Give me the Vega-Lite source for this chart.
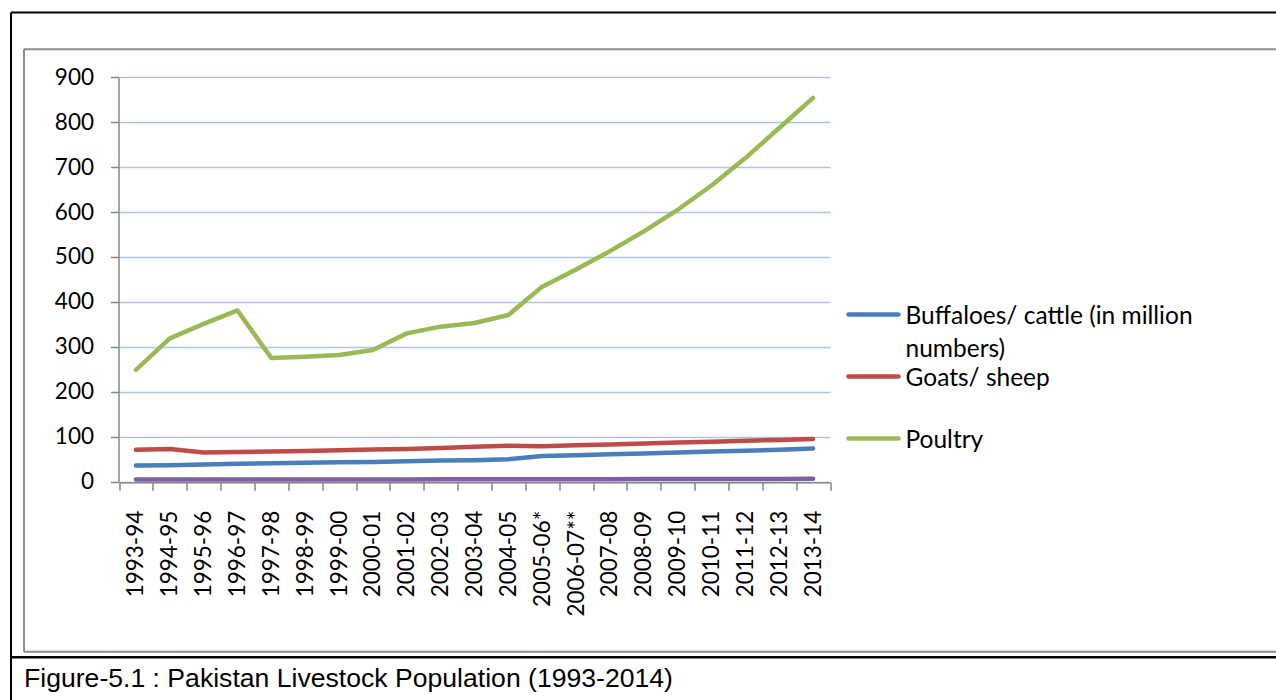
{
  "$schema": "https://vega.github.io/schema/vega-lite/v6.json",
  "autosize": {"type": "none"},
  "width": 1265.5,
  "height": 688,
  "padding": {"left": 10.5, "top": 12, "right": 0, "bottom": 0},
  "background": "white",
  "config": {
    "view": {"stroke": null},
    "font": "Lato",
    "axis": {"labelFont": "Lato", "labelColor": "#000000"}
  },
  "title": {
    "text": "Figure-5.1 : Pakistan Livestock Population (1993-2014)",
    "orient": "bottom",
    "anchor": "start",
    "frame": "group",
    "offset": -13.5,
    "dx": 13.5,
    "font": "Liberation Sans",
    "fontSize": 26.6,
    "fontWeight": "normal",
    "color": "#000000",
    "baseline": "alphabetic"
  },
  "data": {
    "values": [
      {"year": "1993-94", "series": "Buffaloes/ cattle (in million numbers)", "value": 36},
      {"year": "1994-95", "series": "Buffaloes/ cattle (in million numbers)", "value": 36.5},
      {"year": "1995-96", "series": "Buffaloes/ cattle (in million numbers)", "value": 38},
      {"year": "1996-97", "series": "Buffaloes/ cattle (in million numbers)", "value": 40},
      {"year": "1997-98", "series": "Buffaloes/ cattle (in million numbers)", "value": 41},
      {"year": "1998-99", "series": "Buffaloes/ cattle (in million numbers)", "value": 42},
      {"year": "1999-00", "series": "Buffaloes/ cattle (in million numbers)", "value": 43},
      {"year": "2000-01", "series": "Buffaloes/ cattle (in million numbers)", "value": 44},
      {"year": "2001-02", "series": "Buffaloes/ cattle (in million numbers)", "value": 45.5},
      {"year": "2002-03", "series": "Buffaloes/ cattle (in million numbers)", "value": 47},
      {"year": "2003-04", "series": "Buffaloes/ cattle (in million numbers)", "value": 48},
      {"year": "2004-05", "series": "Buffaloes/ cattle (in million numbers)", "value": 50},
      {"year": "2005-06*", "series": "Buffaloes/ cattle (in million numbers)", "value": 57},
      {"year": "2006-07**", "series": "Buffaloes/ cattle (in million numbers)", "value": 59},
      {"year": "2007-08", "series": "Buffaloes/ cattle (in million numbers)", "value": 61},
      {"year": "2008-09", "series": "Buffaloes/ cattle (in million numbers)", "value": 63},
      {"year": "2009-10", "series": "Buffaloes/ cattle (in million numbers)", "value": 65},
      {"year": "2010-11", "series": "Buffaloes/ cattle (in million numbers)", "value": 67},
      {"year": "2011-12", "series": "Buffaloes/ cattle (in million numbers)", "value": 69},
      {"year": "2012-13", "series": "Buffaloes/ cattle (in million numbers)", "value": 71},
      {"year": "2013-14", "series": "Buffaloes/ cattle (in million numbers)", "value": 74},
      {"year": "1993-94", "series": "Goats/ sheep", "value": 71},
      {"year": "1994-95", "series": "Goats/ sheep", "value": 73},
      {"year": "1995-96", "series": "Goats/ sheep", "value": 65},
      {"year": "1996-97", "series": "Goats/ sheep", "value": 66},
      {"year": "1997-98", "series": "Goats/ sheep", "value": 67},
      {"year": "1998-99", "series": "Goats/ sheep", "value": 68.5},
      {"year": "1999-00", "series": "Goats/ sheep", "value": 70},
      {"year": "2000-01", "series": "Goats/ sheep", "value": 71.5},
      {"year": "2001-02", "series": "Goats/ sheep", "value": 73},
      {"year": "2002-03", "series": "Goats/ sheep", "value": 75},
      {"year": "2003-04", "series": "Goats/ sheep", "value": 77.5},
      {"year": "2004-05", "series": "Goats/ sheep", "value": 80},
      {"year": "2005-06*", "series": "Goats/ sheep", "value": 79},
      {"year": "2006-07**", "series": "Goats/ sheep", "value": 81},
      {"year": "2007-08", "series": "Goats/ sheep", "value": 83},
      {"year": "2008-09", "series": "Goats/ sheep", "value": 85},
      {"year": "2009-10", "series": "Goats/ sheep", "value": 87},
      {"year": "2010-11", "series": "Goats/ sheep", "value": 89},
      {"year": "2011-12", "series": "Goats/ sheep", "value": 91},
      {"year": "2012-13", "series": "Goats/ sheep", "value": 93},
      {"year": "2013-14", "series": "Goats/ sheep", "value": 95},
      {"year": "1993-94", "series": "Poultry", "value": 249},
      {"year": "1994-95", "series": "Poultry", "value": 319},
      {"year": "1995-96", "series": "Poultry", "value": 351},
      {"year": "1996-97", "series": "Poultry", "value": 381},
      {"year": "1997-98", "series": "Poultry", "value": 275},
      {"year": "1998-99", "series": "Poultry", "value": 278},
      {"year": "1999-00", "series": "Poultry", "value": 282},
      {"year": "2000-01", "series": "Poultry", "value": 293},
      {"year": "2001-02", "series": "Poultry", "value": 330},
      {"year": "2002-03", "series": "Poultry", "value": 345},
      {"year": "2003-04", "series": "Poultry", "value": 353},
      {"year": "2004-05", "series": "Poultry", "value": 371},
      {"year": "2005-06*", "series": "Poultry", "value": 434},
      {"year": "2006-07**", "series": "Poultry", "value": 472},
      {"year": "2007-08", "series": "Poultry", "value": 513},
      {"year": "2008-09", "series": "Poultry", "value": 557},
      {"year": "2009-10", "series": "Poultry", "value": 605},
      {"year": "2010-11", "series": "Poultry", "value": 659},
      {"year": "2011-12", "series": "Poultry", "value": 720},
      {"year": "2012-13", "series": "Poultry", "value": 787},
      {"year": "2013-14", "series": "Poultry", "value": 854},
      {"year": "1993-94", "series": "Others", "value": 4.8},
      {"year": "1994-95", "series": "Others", "value": 4.8},
      {"year": "1995-96", "series": "Others", "value": 4.9},
      {"year": "1996-97", "series": "Others", "value": 4.9},
      {"year": "1997-98", "series": "Others", "value": 5},
      {"year": "1998-99", "series": "Others", "value": 5},
      {"year": "1999-00", "series": "Others", "value": 5},
      {"year": "2000-01", "series": "Others", "value": 5.1},
      {"year": "2001-02", "series": "Others", "value": 5.1},
      {"year": "2002-03", "series": "Others", "value": 5.2},
      {"year": "2003-04", "series": "Others", "value": 5.2},
      {"year": "2004-05", "series": "Others", "value": 5.3},
      {"year": "2005-06*", "series": "Others", "value": 5.5},
      {"year": "2006-07**", "series": "Others", "value": 5.6},
      {"year": "2007-08", "series": "Others", "value": 5.7},
      {"year": "2008-09", "series": "Others", "value": 5.8},
      {"year": "2009-10", "series": "Others", "value": 5.9},
      {"year": "2010-11", "series": "Others", "value": 6},
      {"year": "2011-12", "series": "Others", "value": 6.1},
      {"year": "2012-13", "series": "Others", "value": 6.2},
      {"year": "2013-14", "series": "Others", "value": 6.3}
    ]
  },
  "layer": [
    {
      "mark": {"type": "line", "strokeWidth": 4.5, "strokeCap": "round", "strokeJoin": "round"},
      "encoding": {
        "x": {
          "field": "year", "type": "nominal", "sort": null, "bandPosition": 0.5,
          "scale": {"type": "band", "range": [108.5, 819.5], "paddingInner": 0, "paddingOuter": 0},
          "axis": {
            "orient": "bottom", "offset": -217.8, "title": null, "labelAngle": -90,
            "labelFontSize": 22.5, "labelPadding": 20, "labelOverlap": false,
            "tickBand": "extent", "tickSize": 8, "tickColor": "#868686", "tickWidth": 1.5,
            "domainColor": "#868686", "domainWidth": 1.5, "grid": false
          }
        },
        "y": {
          "field": "value", "type": "quantitative",
          "scale": {"domain": [0, 900], "range": [469.7, 65.2], "nice": false, "zero": false},
          "axis": {
            "orient": "left", "offset": -108, "title": null,
            "values": [0, 100, 200, 300, 400, 500, 600, 700, 800, 900],
            "labelFontSize": 22.5, "labelPadding": 17,
            "tickSize": 8, "tickColor": "#868686", "tickWidth": 1.5,
            "domainColor": "#868686", "domainWidth": 1.5,
            "grid": true, "gridColor": "#b0c6e6", "gridWidth": 1.5
          }
        },
        "color": {
          "field": "series", "type": "nominal",
          "scale": {
            "domain": ["Buffaloes/ cattle (in million numbers)", "Goats/ sheep", "Poultry", "Others"],
            "range": ["#4a7ebb", "#be4b48", "#98b954", "#7d60a0"]
          },
          "legend": {
            "orient": "none", "legendX": 835.5, "legendY": 287.5,
            "title": null,
            "values": ["Buffaloes/ cattle (in million numbers)", "Goats/ sheep", "Poultry"],
            "symbolType": "M-2,0L2,0", "symbolSize": 625, "symbolStrokeWidth": 4.5, "symbolOffset": 12.5,
            "labelFont": "Lato", "labelFontSize": 24.5, "labelColor": "#000000",
            "labelOffset": 17, "labelBaseline": "alphabetic", "labelLimit": 600,
            "gridAlign": "all", "rowPadding": 0, "padding": 0,
            "labelExpr": "datum.label == 'Buffaloes/ cattle (in million numbers)' ? ['Buffaloes/ cattle (in million', 'numbers)'] : datum.label",
            "encode": {
              "labels": {"update": {"dy": {"value": 9}, "lineHeight": {"value": 33}}},
              "symbols": {"update": {"strokeCap": {"value": "round"}, "fill": {"value": "transparent"}}}
            }
          }
        }
      }
    },
    {
      "mark": {"type": "point", "opacity": 0, "size": 0},
      "encoding": {
        "x": {
          "datum": 0, "type": "quantitative",
          "scale": {"domain": [0, 1], "range": [0, 1265.5]},
          "axis": {"orient": "top", "offset": 0, "domainColor": "#000000", "domainWidth": 2, "ticks": false, "labels": false, "grid": false, "title": null}
        },
        "y": {
          "datum": 0, "type": "quantitative",
          "scale": {"domain": [0, 1], "range": [688, 0]},
          "axis": {"orient": "left", "offset": 0, "domainColor": "#000000", "domainWidth": 2, "ticks": false, "labels": false, "grid": false, "title": null}
        }
      }
    },
    {
      "mark": {"type": "point", "opacity": 0, "size": 0},
      "encoding": {
        "x": {
          "datum": 0, "type": "quantitative",
          "scale": {"domain": [0, 1], "range": [13, 1265.5]},
          "axis": {"orient": "top", "offset": -36.8, "domainColor": "#8c8c8c", "domainWidth": 2, "ticks": false, "labels": false, "grid": false, "title": null}
        },
        "y": {
          "datum": 0, "type": "quantitative",
          "scale": {"domain": [0, 1], "range": [639.2, 36.8]},
          "axis": {"orient": "left", "offset": -13, "domainColor": "#8c8c8c", "domainWidth": 2, "ticks": false, "labels": false, "grid": false, "title": null}
        }
      }
    },
    {
      "mark": {"type": "point", "opacity": 0, "size": 0},
      "encoding": {
        "x": {
          "datum": 0, "type": "quantitative",
          "scale": {"domain": [0, 1], "range": [13, 1265.5]},
          "axis": {"orient": "bottom", "offset": -48.8, "domainColor": "#8c8c8c", "domainWidth": 2, "ticks": false, "labels": false, "grid": false, "title": null}
        }
      }
    },
    {
      "mark": {"type": "point", "opacity": 0, "size": 0},
      "encoding": {
        "x": {
          "datum": 0, "type": "quantitative",
          "scale": {"domain": [0, 1], "range": [0, 1265.5]},
          "axis": {"orient": "bottom", "offset": -43.2, "domainColor": "#000000", "domainWidth": 2.5, "ticks": false, "labels": false, "grid": false, "title": null}
        }
      }
    }
  ],
  "resolve": {
    "scale": {"x": "independent", "y": "independent"},
    "axis": {"x": "independent", "y": "independent"}
  }
}
